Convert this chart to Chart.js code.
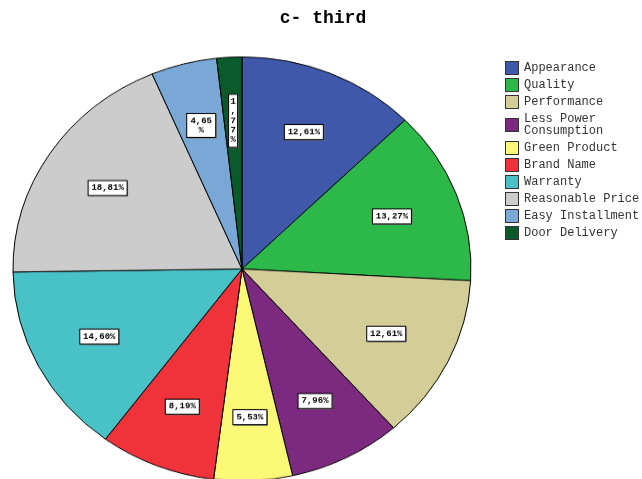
<!DOCTYPE html>
<html><head><meta charset="utf-8">
<script src="https://cdn.jsdelivr.net/npm/chart.js@4"></script>
<style>
html,body{margin:0;padding:0;width:642px;height:479px;overflow:hidden;background:#fff;}
#wrap{position:relative;width:642px;height:479px;overflow:hidden;}
canvas{position:absolute;left:0;top:0;transform-origin:0 0;}
#title{position:absolute;left:0;top:8px;width:646px;text-align:center;font:bold 18px "Liberation Mono",monospace;color:#000;}
#legend{position:absolute;left:505px;top:59.5px;font:12px "Liberation Mono",monospace;color:#333;}
.item{display:flex;align-items:center;padding:1.5px 0;}
.sw{width:12px;height:12px;border:1px solid #333;margin-right:5px;flex:none;}
.tx{width:120px;line-height:12px;padding:1px 0;white-space:normal;}
</style></head>
<body>
<div id="wrap">
<canvas id="c" width="642" height="560"></canvas>
<div id="title">c- third</div>
<div id="legend"></div>
</div>
<script>
const titleText = "c- third";
const categories = ["Appearance","Quality","Performance","Less Power Consumption","Green Product","Brand Name","Warranty","Reasonable Price","Easy Installment","Door Delivery"];
const percents = [12.61,13.27,12.61,7.96,5.53,8.19,14.60,18.81,4.65,1.77];
const colors = ["#3f58aa","#2db84a","#d3ce98","#7b2a80","#fbf777","#f0323b","#48c2c7","#cccccc","#7aa8d6","#0b5a2c"];

const squash = 212/229; // the pie is drawn as a flattened ellipse

document.getElementById('title').textContent = titleText;
const leg = document.getElementById('legend');
categories.forEach((c,i)=>{
  const it=document.createElement('div');it.className='item';
  const sw=document.createElement('div');sw.className='sw';sw.style.background=colors[i];
  const tx=document.createElement('div');tx.className='tx';tx.textContent=c;
  it.appendChild(sw);it.appendChild(tx);leg.appendChild(it);
});

function fmt(v){return v.toFixed(2).replace('.',',')+'%';}
function labelLines(v){
  const s=fmt(v);
  if(v<2) return s.split('');
  if(v<5) return [s.slice(0,-1),'%'];
  return [s];
}

const boxLabels = {
  id:'boxLabels',
  afterDatasetsDraw(chart){
    const ctx=chart.ctx;
    const meta=chart.getDatasetMeta(0);
    meta.data.forEach((arc,i)=>{
      const p=arc.getProps(['x','y','startAngle','endAngle','outerRadius'],true);
      const mid=(p.startAngle+p.endAngle)/2;
      const r=p.outerRadius*0.70;
      const cx=p.x+Math.cos(mid)*r, cy=p.y+Math.sin(mid)*r;
      ctx.save();
      ctx.translate(cx,cy);
      ctx.scale(1,1/squash);
      ctx.font='bold 9px "Liberation Mono", monospace';
      ctx.textAlign='center';ctx.textBaseline='middle';
      const lines=labelLines(percents[i]);
      const lh=9.5;
      let w=0;lines.forEach(l=>{w=Math.max(w,ctx.measureText(l).width);});
      const bw=Math.round(w+(lines.length>1&&w<8?4:7)), bh=Math.round(lines.length*lh+5);
      const bx=-bw/2, by=-bh/2;
      ctx.fillStyle='#777';ctx.fillRect(bx+1,by+1,bw,bh);
      ctx.fillStyle='#fff';ctx.fillRect(bx,by,bw,bh);
      ctx.strokeStyle='#000';ctx.lineWidth=1;ctx.strokeRect(bx,by,bw,bh);
      ctx.fillStyle='#000';
      lines.forEach((l,k)=>{ctx.fillText(l,0,by+2.5+lh*(k+0.5));});
      ctx.restore();
    });
  }
};

const cv=document.getElementById('c');
new Chart(cv,{
  type:'pie',
  data:{labels:categories,datasets:[{data:percents,backgroundColor:colors,borderColor:'#000',borderWidth:1}]},
  options:{
    responsive:false,animation:false,
    layout:{padding:{left:12,top:61,right:170,bottom:40}},
    plugins:{legend:{display:false},title:{display:false},tooltip:{enabled:false}}
  },
  plugins:[boxLabels]
});
cv.style.transform='scaleY('+squash+')';
</script>
</body></html>
